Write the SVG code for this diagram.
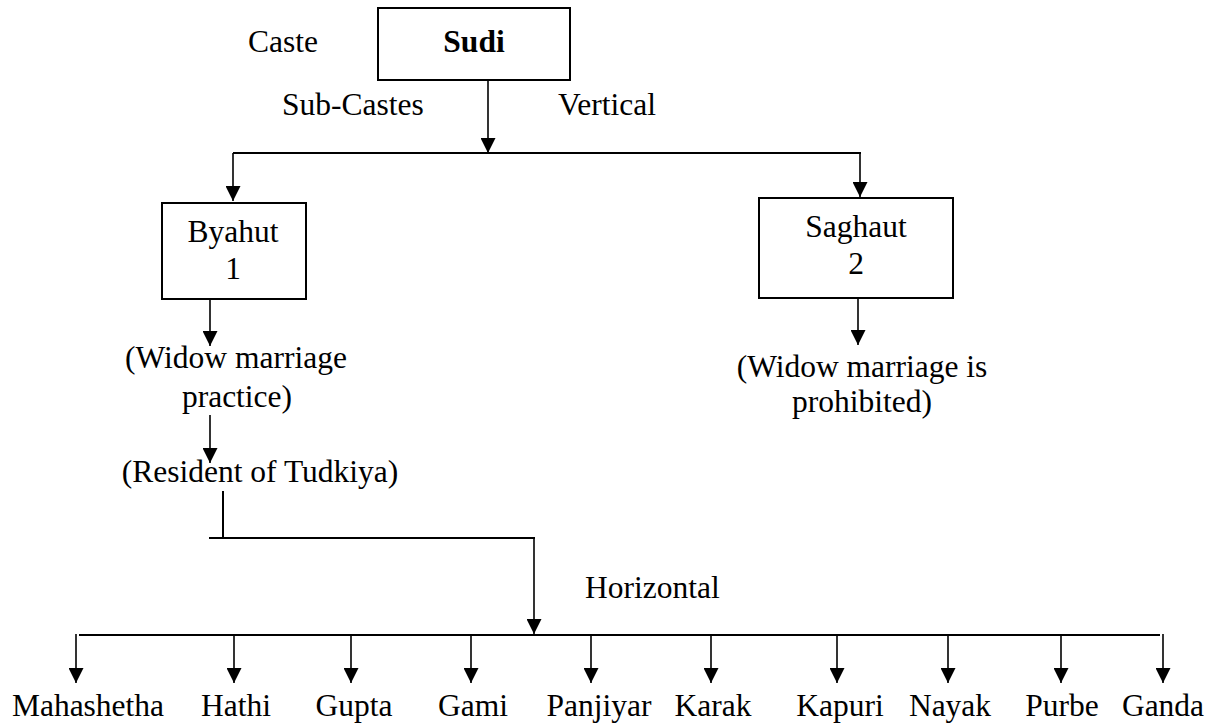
<svg xmlns="http://www.w3.org/2000/svg" width="1222" height="725" viewBox="0 0 1222 725">
  <defs>
    <marker id="arrow" viewBox="0 0 15 15" refX="15" refY="7.5" markerWidth="15" markerHeight="15" markerUnits="userSpaceOnUse" orient="auto">
      <path d="M0,0 L15,7.5 L0,15 z" fill="#000"/>
    </marker>
    <style>
      text { font-family: "Liberation Serif", "Times New Roman", serif; font-size: 31.5px; fill: #000; }
      .c { text-anchor: middle; }
      .b { font-weight: bold; }
      .box { fill: #fff; stroke: #000; stroke-width: 2; }
      .ln { fill: none; stroke: #000; stroke-width: 2; }
      .sh { fill: none; stroke: #000; stroke-width: 1.6; marker-end: url(#arrow); }
    </style>
  </defs>
  <rect width="1222" height="725" fill="#fff"/>

  <!-- connectors -->
  <g id="connectors">
    <line class="sh" x1="488" y1="80" x2="488" y2="153"/>
    <line class="ln" x1="233" y1="153" x2="861" y2="153"/>
    <line class="sh" x1="233" y1="153" x2="233" y2="201"/>
    <line class="sh" x1="860" y1="153" x2="860" y2="197"/>
    <line class="sh" x1="210" y1="299" x2="210" y2="346"/>
    <line class="sh" x1="858" y1="298" x2="858" y2="345"/>
    <line class="sh" x1="210" y1="415" x2="210" y2="463"/>
    <line class="ln" x1="223" y1="491" x2="223" y2="538"/>
    <line class="ln" x1="209" y1="538" x2="535" y2="538"/>
    <line class="sh" x1="534" y1="538" x2="534" y2="634"/>
    <line class="ln" x1="79" y1="635" x2="1160" y2="635"/>
    <line class="sh" x1="76" y1="634" x2="76" y2="683"/>
    <line class="sh" x1="234" y1="635" x2="234" y2="683"/>
    <line class="sh" x1="351" y1="635" x2="351" y2="683"/>
    <line class="sh" x1="471" y1="635" x2="471" y2="683"/>
    <line class="sh" x1="591" y1="635" x2="591" y2="683"/>
    <line class="sh" x1="711" y1="635" x2="711" y2="683"/>
    <line class="sh" x1="837" y1="635" x2="837" y2="683"/>
    <line class="sh" x1="948" y1="635" x2="948" y2="683"/>
    <line class="sh" x1="1061" y1="635" x2="1061" y2="683"/>
    <line class="sh" x1="1163" y1="634" x2="1163" y2="683"/>
  </g>

  <!-- labels -->
  <g id="labels">
    <text x="248" y="52">Caste</text>
    <text x="282" y="115">Sub-Castes</text>
    <text x="558" y="115">Vertical</text>
    <text x="585" y="598">Horizontal</text>
  </g>

  <g id="sudi">
    <rect class="box" x="378" y="8" width="192" height="72"/>
    <text class="c b" x="474" y="52">Sudi</text>
  </g>

  <g id="byahut">
    <rect class="box" x="162" y="203" width="144" height="96"/>
    <text class="c" x="233" y="242">Byahut</text>
    <text class="c" x="233" y="279">1</text>
  </g>

  <g id="saghaut">
    <rect class="box" x="759" y="198" width="194" height="100"/>
    <text class="c" x="856" y="237">Saghaut</text>
    <text class="c" x="856" y="274">2</text>
  </g>

  <g id="widow-practice">
    <text class="c" x="236" y="368">(Widow marriage</text>
    <text class="c" x="237" y="407">practice)</text>
  </g>

  <g id="widow-prohibited">
    <text class="c" x="862" y="377">(Widow marriage is</text>
    <text class="c" x="862" y="412">prohibited)</text>
  </g>

  <g id="resident">
    <text class="c" x="260" y="482">(Resident of Tudkiya)</text>
  </g>

  <g id="mahashetha"><text class="c" x="88" y="716">Mahashetha</text></g>
  <g id="hathi"><text class="c" x="236" y="716">Hathi</text></g>
  <g id="gupta"><text class="c" x="354" y="716">Gupta</text></g>
  <g id="gami"><text class="c" x="473" y="716">Gami</text></g>
  <g id="panjiyar"><text class="c" x="599" y="716">Panjiyar</text></g>
  <g id="karak"><text class="c" x="713" y="716">Karak</text></g>
  <g id="kapuri"><text class="c" x="840" y="716">Kapuri</text></g>
  <g id="nayak"><text class="c" x="950" y="716">Nayak</text></g>
  <g id="purbe"><text class="c" x="1062" y="716">Purbe</text></g>
  <g id="ganda"><text class="c" x="1163" y="716">Ganda</text></g>
</svg>
